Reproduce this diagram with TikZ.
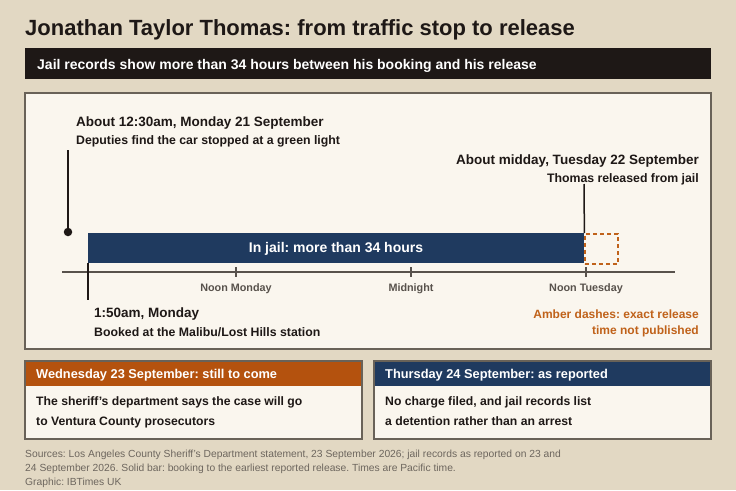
\documentclass[tikz,border=0pt]{standalone}
\usepackage{fontspec}
\setmainfont{Liberation Sans}
\usetikzlibrary{positioning}
\frenchspacing

\definecolor{paper}{RGB}{226,216,195}
\definecolor{panel}{RGB}{250,246,238}
\definecolor{ink}{RGB}{30,24,22}
\definecolor{navy}{RGB}{31,58,95}
\definecolor{rust}{RGB}{180,82,14}
\definecolor{amber}{RGB}{192,98,26}
\definecolor{frame}{RGB}{105,98,88}
\definecolor{muted}{RGB}{88,82,76}

\tikzset{
  headline/.style={anchor=west, inner sep=0pt, text=ink, font=\bfseries\fontsize{22}{24}\selectfont},
  when/.style={inner sep=0pt, text=ink, font=\bfseries\fontsize{13.5}{16}\selectfont},
  what/.style={inner sep=0pt, text=ink, font=\bfseries\fontsize{12.3}{14}\selectfont},
  ticklabel/.style={inner sep=0pt, text=muted, font=\bfseries\fontsize{10.8}{12}\selectfont},
  boxhead/.style={anchor=west, inner sep=0pt, text=white, font=\bfseries\fontsize{12.8}{15}\selectfont},
  boxbody/.style={anchor=north west, inner sep=0pt, align=left, text=ink, font=\bfseries\fontsize{12.2}{20}\selectfont},
  marker/.style={draw=ink, line width=1.5pt},
}

\begin{document}
\begin{tikzpicture}[x=1pt, y=-1pt]
        \useasboundingbox (0,0) rectangle (736,490);
        \fill[paper] (0,0) rectangle (736,490);

        % Title and strapline
        \node[headline] (title) at (25,30) {Jonathan Taylor Thomas: from traffic stop to release};
        \fill[ink] (25,48) rectangle (711,79);
        \node[anchor=west, inner sep=0pt, text=white, font=\bfseries\fontsize{14}{16}\selectfont] (strap) at (37,65.5) {Jail records show more than 34 hours between his booking and his release};

        % Timeline panel
        \draw[frame, line width=1.2pt, fill=panel] (25,93) rectangle (711,349);

        % Axis with ticks
        \coordinate (axisL) at (62,272);
        \coordinate (axisR) at (675,272);
        \draw[muted, line width=1.3pt] (axisL) -- (axisR);
        \foreach \x/\lbl [count=\i] in {236/Noon Monday, 411/Midnight, 586/Noon Tuesday} {
          \draw[muted, line width=1.3pt] (\x,267) -- (\x,277);
          \node[ticklabel] (tick\i) at (\x,288.5) {\lbl};
        }

        % Jail bar
        \node[fill=navy, draw=none, minimum width=496pt, minimum height=30pt, anchor=north west, inner sep=0pt] (bar) at (88,233) {};
        \node[text=white, font=\bfseries\fontsize{14}{16}\selectfont, inner sep=0pt] (barlabel) at (336,249) {In jail: more than 34 hours};
        \node[draw=amber, dashed, line width=1.5pt, dash pattern=on 4pt off 3pt, minimum width=33pt, minimum height=30pt, anchor=north west, inner sep=0pt] (unknown) at (584,233) {};

        % Traffic stop
        \node[when, anchor=west] (stopwhen) at (76,123.5) {About 12:30am, Monday 21 September};
        \node[what, anchor=west] (stopwhat) at (76,141) {Deputies find the car stopped at a green light};
        \coordinate (stoptop) at (68,150);
        \node[circle, fill=ink, inner sep=0pt, minimum size=8.5pt] (stopdot) at (68,232) {};
        \draw[marker] (stoptop) -- (stopdot);

        % Booking
        \coordinate (booktop) at (88,263);
        \coordinate (bookfoot) at (88,300);
        \draw[marker] (booktop) -- (bookfoot);
        \node[when, anchor=west] (bookwhen) at (94,314.5) {1:50am, Monday};
        \node[what, anchor=west] (bookwhat) at (94,332) {Booked at the Malibu/Lost Hills station};

        % Release
        \node[when, anchor=east] (relwhen) at (699,161.5) {About midday, Tuesday 22 September};
        \node[what, anchor=east] (relwhat) at (699,179) {Thomas released from jail};
        \coordinate (reltop) at (584,184);
        \draw[marker] (reltop) -- (bar.north east);

        % Note on the dashes
        \node[what, anchor=east, text=amber, font=\bfseries\fontsize{12}{14}\selectfont] (note1) at (699,314.5) {Amber dashes: exact release};
        \node[what, anchor=east, text=amber, font=\bfseries\fontsize{12}{14}\selectfont] (note2) at (699,331.5) {time not published};

        % Wednesday box
        \draw[frame, line width=1.2pt, fill=panel] (25,361) rectangle (362,439);
        \fill[rust] (25.6,361.6) rectangle (361.4,386);
        \node[boxhead] (wedhead) at (36,375) {Wednesday 23 September: still to come};
        \node[boxbody] (wedbody) at (36,396.5) {The sheriff's department says the case will go\\to Ventura County prosecutors};

        % Thursday box
        \draw[frame, line width=1.2pt, fill=panel] (374,361) rectangle (711,439);
        \fill[navy] (374.6,361.6) rectangle (710.4,386);
        \node[boxhead] (thuhead) at (385,375) {Thursday 24 September: as reported};
        \node[boxbody] (thubody) at (385,396.5) {No charge filed, and jail records list\\a detention rather than an arrest};

        % Sources
        \node[anchor=north west, inner sep=0pt, align=left, text=muted!85!paper, font=\fontsize{10.3}{14}\selectfont] (sources) at (25,449.5)
          {Sources: Los Angeles County Sheriff's Department statement, 23 September 2026; jail records as reported on 23 and\\24 September 2026. Solid bar: booking to the earliest reported release. Times are Pacific time.\\Graphic: IBTimes UK};

\end{tikzpicture}
\end{document}
